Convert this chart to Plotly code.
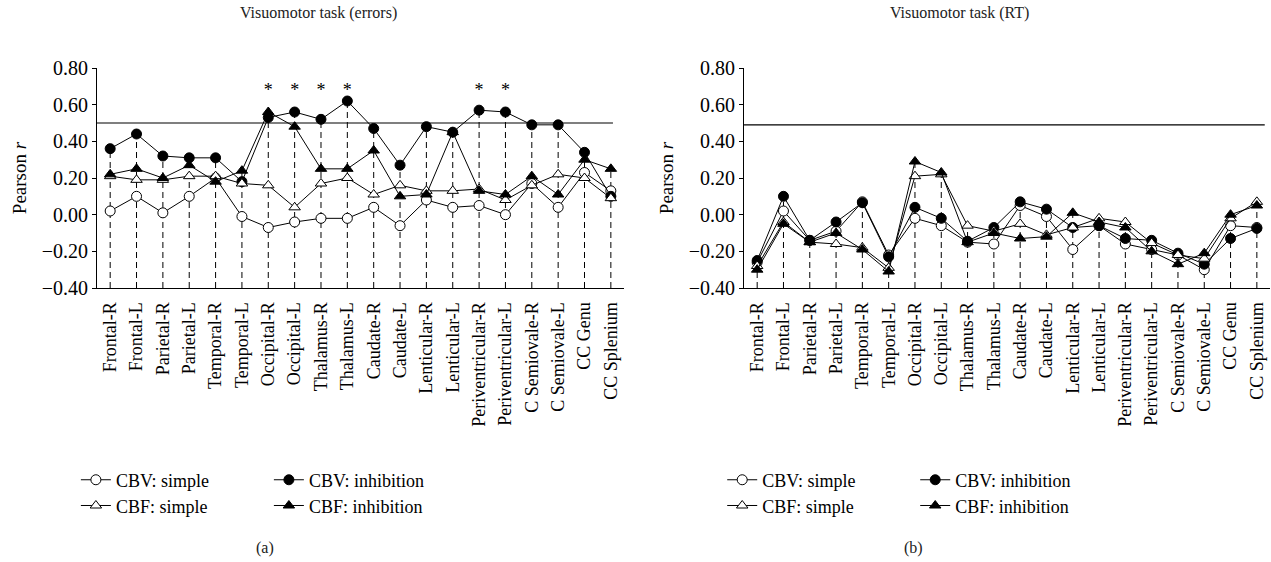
import plotly.graph_objects as go

regions = ["Frontal-R", "Frontal-L", "Parietal-R", "Parietal-L", "Temporal-R", "Temporal-L",
           "Occipital-R", "Occipital-L", "Thalamus-R", "Thalamus-L", "Caudate-R", "Caudate-L",
           "Lenticular-R", "Lenticular-L", "Periventricular-R", "Periventricular-L",
           "C Semiovale-R", "C Semiovale-L", "CC Genu", "CC Splenium"]

# Panel (a): Visuomotor task (errors)
err_cbv_simple = [0.02, 0.10, 0.01, 0.10, 0.20, -0.01, -0.07, -0.04, -0.02, -0.02,
                  0.04, -0.06, 0.08, 0.04, 0.05, 0.00, 0.17, 0.04, 0.23, 0.13]
err_cbv_inhib = [0.36, 0.44, 0.32, 0.31, 0.31, 0.18, 0.53, 0.56, 0.52, 0.62,
                 0.47, 0.27, 0.48, 0.45, 0.57, 0.56, 0.49, 0.49, 0.34, 0.10]
err_cbf_simple = [0.21, 0.19, 0.19, 0.21, 0.21, 0.17, 0.16, 0.04, 0.17, 0.20,
                  0.11, 0.16, 0.13, 0.13, 0.14, 0.08, 0.16, 0.22, 0.20, 0.09]
err_cbf_inhib = [0.22, 0.25, 0.20, 0.27, 0.18, 0.24, 0.56, 0.48, 0.25, 0.25,
                 0.35, 0.10, 0.11, 0.45, 0.13, 0.11, 0.21, 0.11, 0.30, 0.25]
err_stars = ["Occipital-R", "Occipital-L", "Thalamus-R", "Thalamus-L",
             "Periventricular-R", "Periventricular-L"]

# Panel (b): Visuomotor task (RT)
rt_cbv_simple = [-0.26, 0.02, -0.14, -0.09, 0.07, -0.22, -0.02, -0.06, -0.15, -0.16,
                 0.05, -0.01, -0.19, -0.06, -0.16, -0.19, -0.22, -0.30, -0.06, -0.07]
rt_cbv_inhib = [-0.25, 0.10, -0.14, -0.04, 0.065, -0.23, 0.04, -0.02, -0.145, -0.07,
                0.07, 0.03, -0.07, -0.06, -0.13, -0.14, -0.21, -0.27, -0.13, -0.075]
rt_cbf_simple = [-0.28, -0.04, -0.15, -0.16, -0.18, -0.29, 0.21, 0.22, -0.06, -0.09,
                 -0.05, -0.11, -0.07, -0.02, -0.04, -0.155, -0.22, -0.24, -0.02, 0.07]
rt_cbf_inhib = [-0.30, -0.05, -0.15, -0.10, -0.19, -0.31, 0.29, 0.23, -0.15, -0.10,
                -0.13, -0.12, 0.01, -0.04, -0.07, -0.20, -0.27, -0.21, 0.00, 0.05]

thresholds = [0.50, 0.49]
titles = ["Visuomotor task (errors)", "Visuomotor task (RT)"]
captions = ["(a)", "(b)"]
series_names = ["CBV: simple", "CBV: inhibition", "CBF: simple", "CBF: inhibition"]
y_ticks = [-0.40, -0.20, 0.00, 0.20, 0.40, 0.60, 0.80]
y_ticktext = ["\u22120.40", "\u22120.20", "0.00", "0.20", "0.40", "0.60", "0.80"]

FONT = "Liberation Serif, serif"
styles = [
    dict(symbol="circle", color="white"),
    dict(symbol="circle", color="black"),
    dict(symbol="triangle-up", color="white"),
    dict(symbol="triangle-up", color="black"),
]

fig = go.Figure()

# each panel: two legend rows (CBV row, CBF row)
panels = [
    ("x", "y", ["legend", "legend", "legend3", "legend3"],
     [err_cbv_simple, err_cbv_inhib, err_cbf_simple, err_cbf_inhib]),
    ("x2", "y2", ["legend2", "legend2", "legend4", "legend4"],
     [rt_cbv_simple, rt_cbv_inhib, rt_cbf_simple, rt_cbf_inhib]),
]
ymin = y_ticks[0]

for xa, ya, lgs, series in panels:
    # drop lines from the highest point of each region to the axis
    dx, dy = [], []
    for i, r in enumerate(regions):
        top = max(s[i] for s in series)
        dx += [r, r, None]
        dy += [ymin, top, None]
    fig.add_trace(go.Scatter(x=dx, y=dy, mode="lines", xaxis=xa, yaxis=ya,
                             line=dict(color="black", width=1, dash="6px,4px"),
                             showlegend=False, hoverinfo="skip"))
    for name, vals, st, lg in zip(series_names, series, styles, lgs):
        fig.add_trace(go.Scatter(
            x=regions, y=vals, name=name, mode="lines+markers", xaxis=xa, yaxis=ya,
            legend=lg,
            line=dict(color="black", width=1),
            marker=dict(symbol=st["symbol"], size=10, color=st["color"],
                        line=dict(color="black", width=1)),
        ))

# significance stars
fig.add_trace(go.Scatter(x=err_stars, y=[0.67] * len(err_stars), mode="text", text=["*"] * len(err_stars),
                         textfont=dict(family=FONT, size=18, color="black"),
                         xaxis="x", yaxis="y", showlegend=False, hoverinfo="skip"))

axis_common = dict(showline=True, linecolor="black", linewidth=1, showgrid=False, zeroline=False)
xcommon = dict(axis_common, type="category", categoryorder="array", categoryarray=regions,
               range=[-0.5, 19.5], tickangle=-90, ticks="", ticklabelstandoff=6,
               tickfont=dict(family=FONT, size=18, color="black"))
ycommon = dict(axis_common, range=[-0.40, 0.80], tickvals=y_ticks, ticktext=y_ticktext,
               ticks="outside", ticklen=4, tickcolor="black",
               tickfont=dict(family=FONT, size=20, color="black"))
ytitle = dict(text="Pearson <i>r</i>", font=dict(family=FONT, size=19, color="black"), standoff=10)

row1_y, row2_y = -0.873, -0.99


def make_legend(x, y):
    return dict(orientation="h", xanchor="left", yanchor="middle", x=x, y=y,
                entrywidth=148, entrywidthmode="pixels",
                font=dict(family=FONT, size=18, color="black"),
                bgcolor="rgba(0,0,0,0)", itemclick=False, tracegroupgap=0)


fig.update_layout(
    width=1271, height=562,
    margin=dict(l=97, r=1, t=68, b=274, autoexpand=False),
    plot_bgcolor="white", paper_bgcolor="white",
    font=dict(family=FONT, size=18, color="black"),
    xaxis=dict(xcommon, domain=[0, 0.4493], anchor="y"),
    yaxis=dict(ycommon, domain=[0, 1], anchor="x", title=ytitle),
    xaxis2=dict(xcommon, domain=[0.5516, 1], anchor="y2"),
    yaxis2=dict(ycommon, domain=[0, 1], anchor="x2", title=ytitle),
    legend=make_legend(-0.018, row1_y),
    legend3=make_legend(-0.018, row2_y),
    legend2=make_legend(0.533, row1_y),
    legend4=make_legend(0.533, row2_y),
    showlegend=True,
)

# threshold lines
fig.add_shape(type="line", xref="x domain", yref="y", x0=0, x1=0.979, y0=thresholds[0], y1=thresholds[0],
              line=dict(color="black", width=1.2))
fig.add_shape(type="line", xref="x2 domain", yref="y2", x0=0, x1=0.99, y0=thresholds[1], y1=thresholds[1],
              line=dict(color="black", width=1.2))

# panel titles and captions
for i, (t, c) in enumerate(zip(titles, captions)):
    xd = "x domain" if i == 0 else "x2 domain"
    fig.add_annotation(text=t, xref=xd, yref="paper",
                       x=0.42 if i == 0 else 0.41, y=1.25, yanchor="middle", showarrow=False,
                       font=dict(family=FONT, size=16, color="#222"))
    fig.add_annotation(text=c, xref=xd, yref="paper", x=0.297 if i == 0 else 0.30, y=-1.18,
                       yanchor="middle", showarrow=False, font=dict(family=FONT, size=16, color="#222"))

fig.write_html("out.html", config={"displayModeBar": False},
               post_script="document.body.style.margin='0';")
